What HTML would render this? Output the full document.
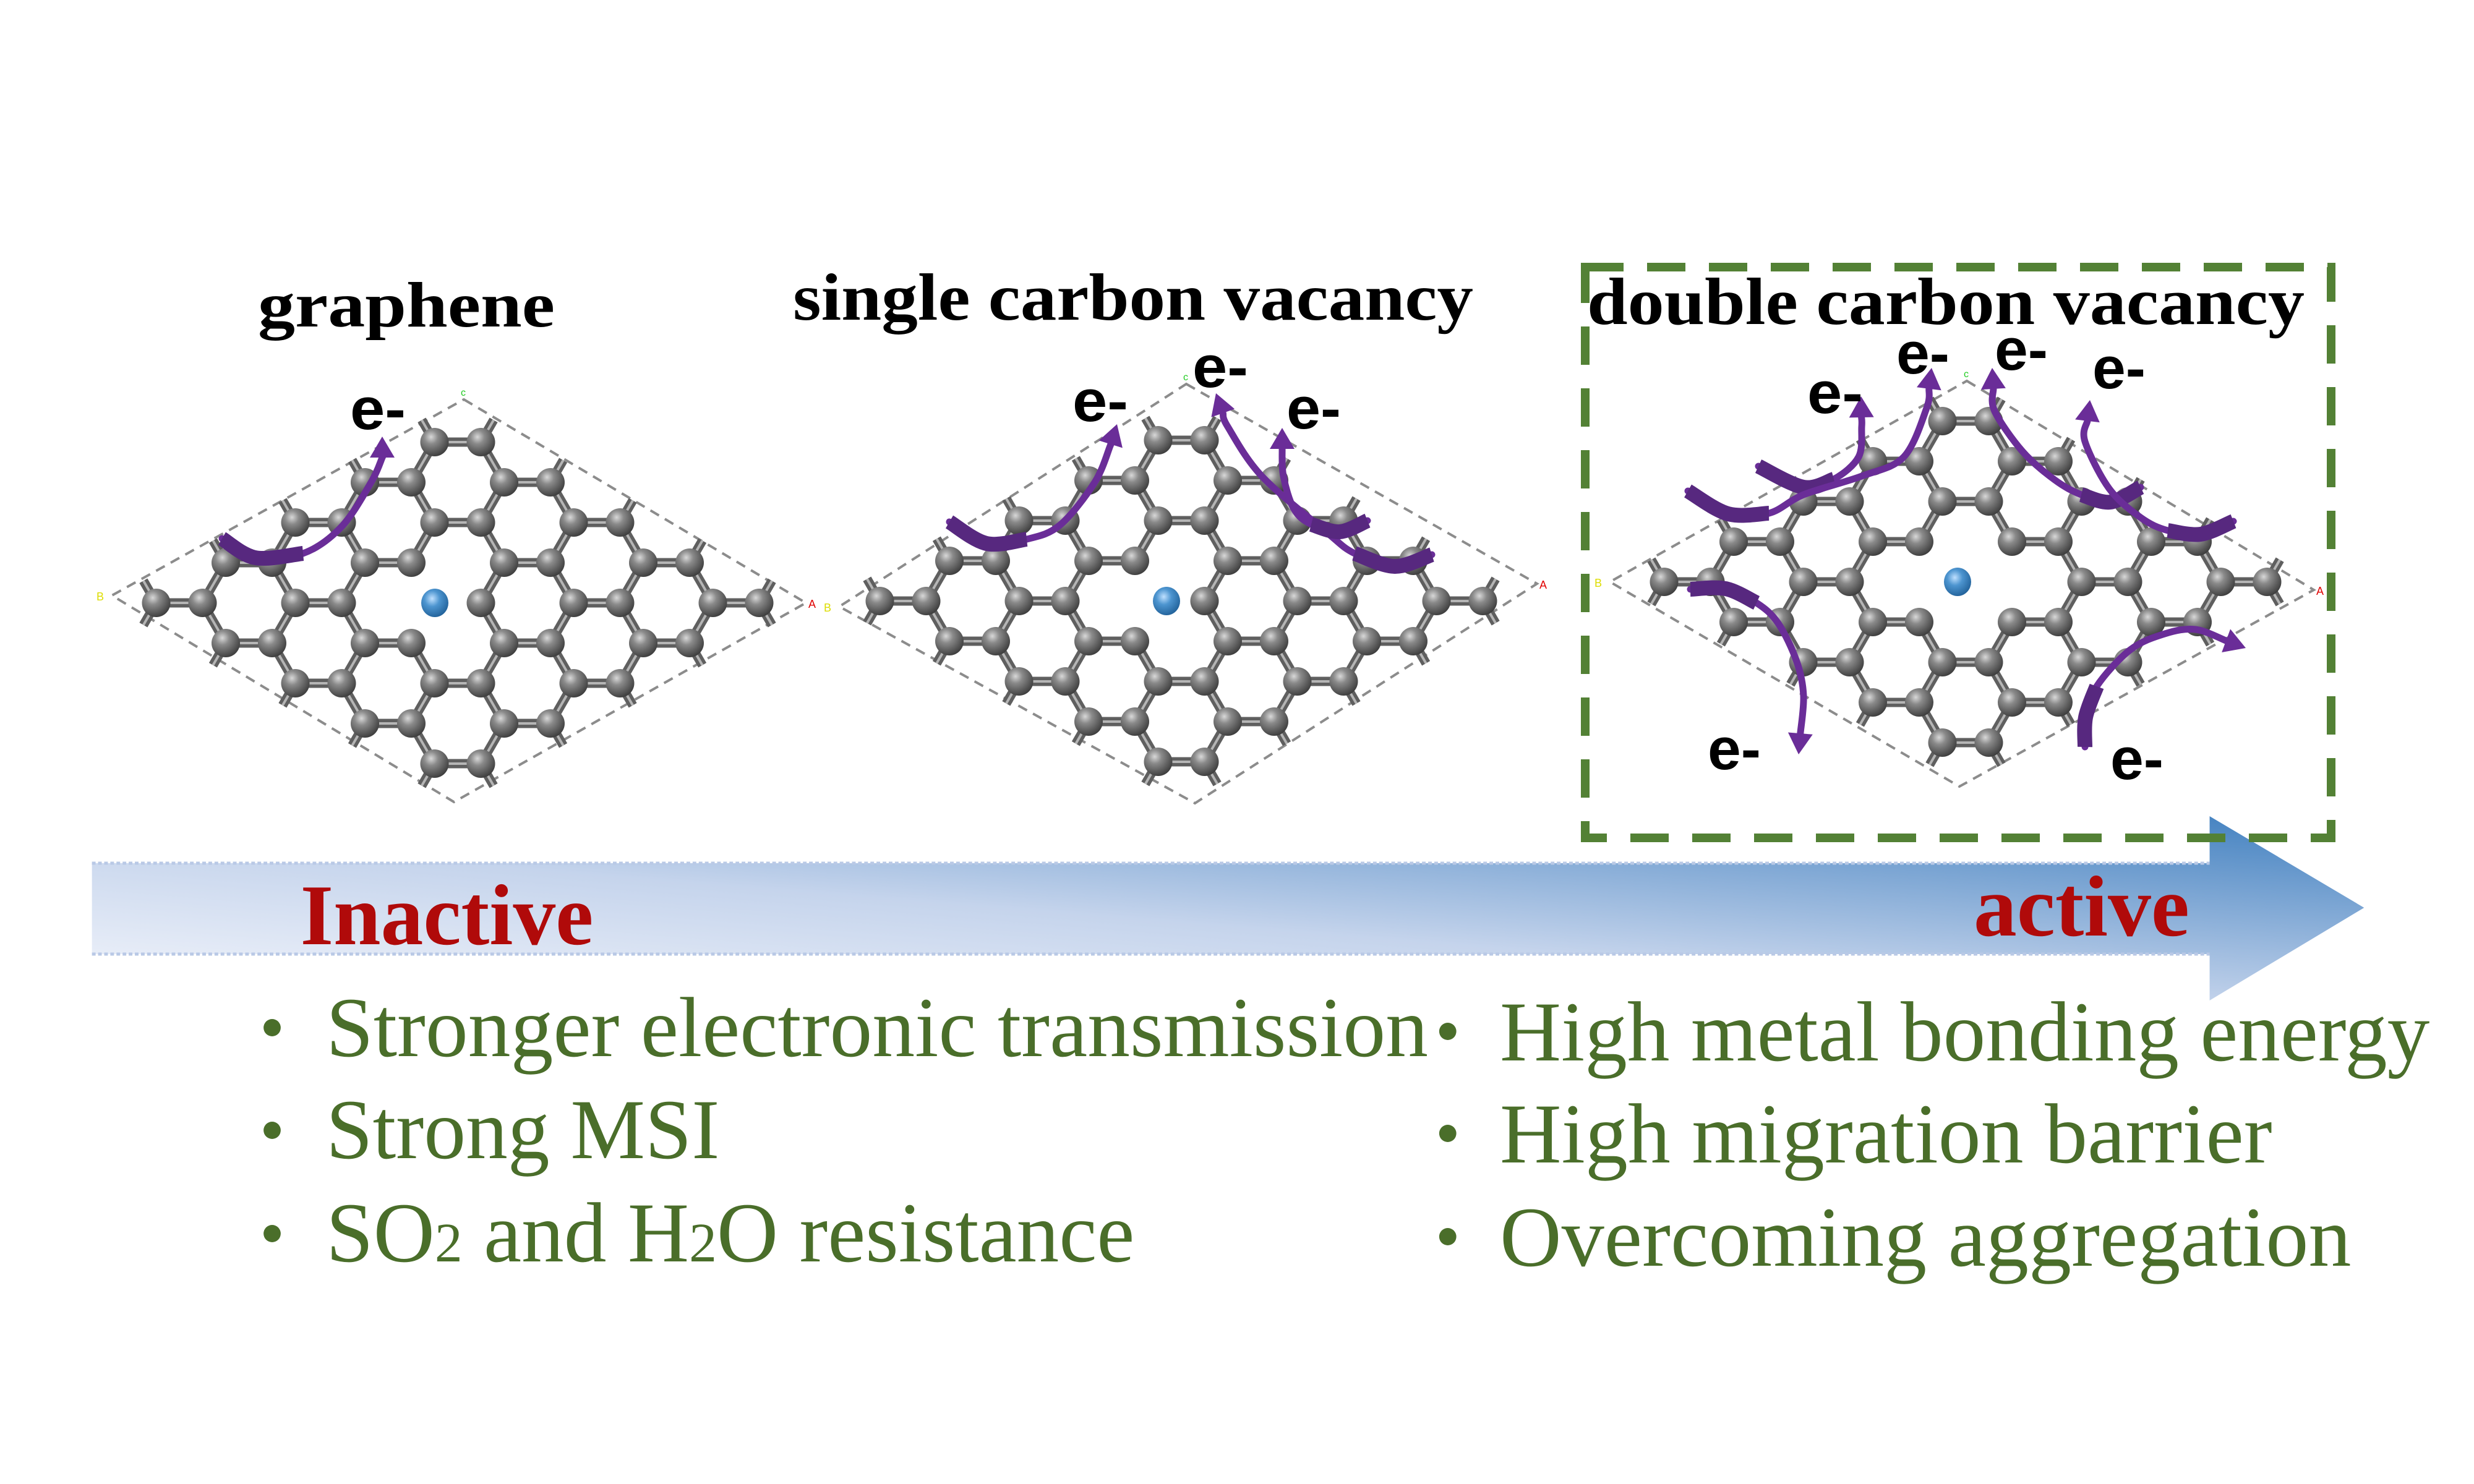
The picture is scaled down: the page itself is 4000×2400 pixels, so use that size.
<!DOCTYPE html>
<html><head><meta charset="utf-8"><style>
html,body{margin:0;padding:0;background:#fff;}
svg{display:block;}
</style></head><body>
<svg id="s" width="4000" height="2400" viewBox="0 0 4000 2400" xmlns="http://www.w3.org/2000/svg">
<defs>
<radialGradient id="atom" cx="38%" cy="32%" r="70%">
<stop offset="0" stop-color="#d8d8d8"/><stop offset="0.35" stop-color="#8a8a8a"/><stop offset="1" stop-color="#3e3e3e"/>
</radialGradient>
<radialGradient id="blue" cx="40%" cy="35%" r="70%">
<stop offset="0" stop-color="#bfe0ff"/><stop offset="0.4" stop-color="#4d95d0"/><stop offset="1" stop-color="#1f5f97"/>
</radialGradient>
<linearGradient id="band" x1="0" y1="1" x2="1" y2="0">
<stop offset="0" stop-color="#f4f6fc"/><stop offset="0.45" stop-color="#c5d4ec"/><stop offset="1" stop-color="#3f7fbf"/>
</linearGradient>
</defs>
<rect width="4000" height="2400" fill="#fff"/>
<g transform="scale(0.991,1)">
<polygon points="150,1396 3605,1396 3605,1320 3857,1468 3605,1618 3605,1543 150,1543" fill="url(#band)"/>
<line x1="150" y1="1396" x2="3605" y2="1396" stroke="#b9c9e6" stroke-width="5" stroke-dasharray="6 4"/>
<line x1="150" y1="1543" x2="3605" y2="1543" stroke="#b9c9e6" stroke-width="5" stroke-dasharray="6 4"/>
</g>

<rect x="2563" y="432" width="1206" height="923" fill="none" stroke="#538135" stroke-width="14" stroke-dasharray="62 38"/>

<g id="lat"></g>
<g id="arr"></g>

<g font-family="'Liberation Serif', serif" font-weight="bold" fill="#000">
<text x="417" y="528" font-size="104" textLength="480" lengthAdjust="spacingAndGlyphs">graphene</text>
<text x="1282" y="517" font-size="108" textLength="1100" lengthAdjust="spacingAndGlyphs">single carbon vacancy</text>
<text x="2566" y="524" font-size="108" textLength="1160" lengthAdjust="spacingAndGlyphs">double carbon vacancy</text>
</g>

<g font-family="'Liberation Sans', sans-serif" font-weight="bold" fill="#000" font-size="96">
<text x="566" y="694" textLength="90" lengthAdjust="spacingAndGlyphs">e-</text>
<text x="1734" y="681" textLength="90" lengthAdjust="spacingAndGlyphs">e-</text>
<text x="1928" y="626" textLength="90" lengthAdjust="spacingAndGlyphs">e-</text>
<text x="2080" y="693" textLength="88" lengthAdjust="spacingAndGlyphs">e-</text>
<text x="2922" y="668" textLength="90" lengthAdjust="spacingAndGlyphs">e-</text>
<text x="3066" y="604" textLength="86" lengthAdjust="spacingAndGlyphs">e-</text>
<text x="3225" y="598" textLength="86" lengthAdjust="spacingAndGlyphs">e-</text>
<text x="3383" y="628" textLength="86" lengthAdjust="spacingAndGlyphs">e-</text>
<text x="2761" y="1244" textLength="86" lengthAdjust="spacingAndGlyphs">e-</text>
<text x="3412" y="1260" textLength="86" lengthAdjust="spacingAndGlyphs">e-</text>
</g>

<g transform="scale(0.991,1)">
<g font-family="'Liberation Serif', serif" font-weight="bold" fill="#b00a0a">
<text x="490" y="1527" font-size="140" textLength="478" lengthAdjust="spacingAndGlyphs">Inactive</text>
<text x="3220" y="1513" font-size="140" textLength="352" lengthAdjust="spacingAndGlyphs">active</text>
</g>

<g font-family="'Liberation Serif', serif" fill="#4a6e2a" font-size="138">
<circle cx="444" cy="1662" r="14"/><circle cx="2362" cy="1668" r="14"/>
<circle cx="444" cy="1828" r="14"/><circle cx="2362" cy="1833" r="14"/>
<circle cx="444" cy="1995" r="14"/><circle cx="2362" cy="2000" r="14"/>
<text x="532" y="1708" textLength="1798" lengthAdjust="spacingAndGlyphs">Stronger electronic transmission</text>
<text x="532" y="1873" textLength="642" lengthAdjust="spacingAndGlyphs">Strong MSI</text>
<text x="532" y="2040" textLength="1319" lengthAdjust="spacingAndGlyphs">SO<tspan font-size="90">2</tspan> and H<tspan font-size="90">2</tspan>O resistance</text>
<text x="2447" y="1715" textLength="1517" lengthAdjust="spacingAndGlyphs">High metal bonding energy</text>
<text x="2447" y="1880" textLength="1260" lengthAdjust="spacingAndGlyphs">High migration barrier</text>
<text x="2447" y="2047" textLength="1389" lengthAdjust="spacingAndGlyphs">Overcoming aggregation</text>
</g>
</g>
</svg>
<script>
(function(){
var NS="http://www.w3.org/2000/svg";
var lat=document.getElementById("lat"), arr=document.getElementById("arr");
function el(n,at,p){var e=document.createElementNS(NS,n);for(var k in at)e.setAttribute(k,at[k]);(p||lat).appendChild(e);return e;}
var a=75,h=65;
function lattice(o){
  var vs=o.v, pts=vs.map(function(p){return p.join(",")}).join(" ");
  el("polygon",{points:pts,fill:"none",stroke:"#8c8c8c","stroke-width":4,"stroke-dasharray":"16 11"});
  function inside(x,y,f){return Math.abs(x-o.dcx)/o.hw+Math.abs(y-o.dcy)/o.hh<=f;}
  var atoms={},list=[];
  function key(x,y){return Math.round(x)+"_"+Math.round(y);}
  var cand=[];
  for(var j=-6;j<=6;j++){
    var y=o.ry+j*h;
    for(var k=-6;k<=6;k++){
      var xl,xr;
      if(j%2===0){xl=o.cx-a/2+3*a*k;xr=o.cx+a/2+3*a*k;}
      else{xl=o.cx+a+3*a*k;xr=o.cx+2*a+3*a*k;}
      cand.push({x:xl,y:y,t:"L"});cand.push({x:xr,y:y,t:"R"});
    }
  }
  var removed={};
  (o.rm||[]).forEach(function(p){removed[key(p[0],p[1])]=1;});
  cand.forEach(function(c){
    if(inside(c.x,c.y,1.0)&&!removed[key(c.x,c.y)]){atoms[key(c.x,c.y)]=c;list.push(c);}
  });
  var bonds=el("g",{});
  function bond(x1,y1,x2,y2){
    el("line",{x1:x1,y1:y1,x2:x2,y2:y2,stroke:"#5f5f5f","stroke-width":15,"stroke-linecap":"butt"},bonds);
    el("line",{x1:x1,y1:y1,x2:x2,y2:y2,stroke:"#b5b5b5","stroke-width":4},bonds);
  }
  list.forEach(function(c){
    var nb=[];
    if(c.t==="L"){nb=[[c.x+a,c.y],[c.x-a/2,c.y-h],[c.x-a/2,c.y+h]];}
    else{nb=[[c.x-a,c.y],[c.x+a/2,c.y-h],[c.x+a/2,c.y+h]];}
    nb.forEach(function(n){
      var kk=key(n[0],n[1]);
      if(atoms[kk]){
        if(n[1]>c.y||(n[1]===c.y&&n[0]>c.x))bond(c.x,c.y,n[0],n[1]);
      }else if(!removed[kk]&&inside(n[0],n[1],1.2)){
        bond(c.x,c.y,c.x+(n[0]-c.x)*0.55,c.y+(n[1]-c.y)*0.55);
      }
    });
  });
  list.forEach(function(c){
    el("circle",{cx:c.x,cy:c.y,r:23,fill:"url(#atom)"});
  });
  el("ellipse",{cx:o.b[0],cy:o.b[1],rx:22,ry:23,fill:"url(#blue)"});
  el("text",{x:vs[3][0]-25,y:vs[3][1]+8,"font-size":18,fill:"#dddd00","font-family":"Liberation Sans, sans-serif"}).textContent="B";
  el("text",{x:vs[1][0]+4,y:vs[1][1]+8,"font-size":18,fill:"#e00000","font-family":"Liberation Sans, sans-serif"}).textContent="A";
  el("text",{x:vs[0][0]-5,y:vs[0][1]-6,"font-size":16,fill:"#22cc22","font-family":"Liberation Sans, sans-serif"}).textContent="c";
}
lattice({v:[[750,646],[1303,975],[734,1297],[181,963]],dcx:742,dcy:971,hw:561,hh:325,cx:740,ry:975,rm:[[702.5,975]],b:[703,975]});
lattice({v:[[1918,621],[2485,944],[1932,1299],[1357,981]],dcx:1921,dcy:960,hw:564,hh:339,cx:1910,ry:972,rm:[[1872.5,972]],b:[1886,972]});
lattice({v:[[3180,616],[3741,954],[3168,1272],[2603,941]],dcx:3172,dcy:944,hw:569,hh:328,cx:3178,ry:941,rm:[[3140.5,941],[3215.5,941]],b:[3165,941]});

function smooth(p){
  var d="M"+p[0][0]+","+p[0][1];
  for(var i=0;i<p.length-1;i++){
    var p0=p[i-1]||p[i],p1=p[i],p2=p[i+1],p3=p[i+2]||p2;
    var c1=[p1[0]+(p2[0]-p0[0])/6,p1[1]+(p2[1]-p0[1])/6];
    var c2=[p2[0]-(p3[0]-p1[0])/6,p2[1]-(p3[1]-p1[1])/6];
    d+=" C"+c1[0]+","+c1[1]+" "+c2[0]+","+c2[1]+" "+p2[0]+","+p2[1];
  }
  return d;
}
function arrow(p){
  var n=p.length, tip=p[n-1], prev=p[n-2];
  var dx=tip[0]-prev[0],dy=tip[1]-prev[1],L=Math.sqrt(dx*dx+dy*dy);dx/=L;dy/=L;
  var hl=34,hw=20;
  var base=[tip[0]-dx*hl,tip[1]-dy*hl];
  var body=p.slice(0,n-1).concat([base]);
  el("path",{d:smooth(body),fill:"none",stroke:"#6a2d98","stroke-width":11,"stroke-linecap":"round"},arr);
  el("path",{d:smooth(p.slice(0,3)),fill:"none",stroke:"#57287f","stroke-width":24,"stroke-linecap":"butt"},arr);
  el("polygon",{points:[tip[0]+","+tip[1],(base[0]-dy*hw)+","+(base[1]+dx*hw),(base[0]+dy*hw)+","+(base[1]-dx*hw)].join(" "),fill:"#6a2d98"},arr);
}
arrow([[359,871],[413,902],[490,895],[552,852],[600,780],[618,740],[618,706]]);
arrow([[1535,844],[1595,879],[1660,872],[1714,849],[1770,780],[1795,721],[1806,686]]);
arrow([[2315,897],[2255,916],[2190,895],[2144,860],[2040,770],[1985,690],[1966,636]]);
arrow([[2211,842],[2166,860],[2120,848],[2092,823],[2075,770],[2073,725],[2073,692]]);
arrow([[2843,754],[2916,788],[2965,775],[3005,739],[3010,690],[3009,641]]);
arrow([[2729,794],[2794,831],[2860,830],[2916,800],[3010,770],[3078,739],[3115,660],[3123,595]]);
arrow([[3461,788],[3412,812],[3365,800],[3322,776],[3270,730],[3225,665],[3221,595]]);
arrow([[3611,843],[3558,864],[3505,858],[3461,837],[3410,790],[3371,714],[3379,647]]);
arrow([[2733,953],[2790,952],[2840,975],[2875,1008],[2905,1070],[2916,1125],[2908,1220]]);
arrow([[3371,1208],[3372,1160],[3390,1110],[3444,1051],[3500,1025],[3550,1018],[3631,1048]]);
})();
</script>
</body></html>
